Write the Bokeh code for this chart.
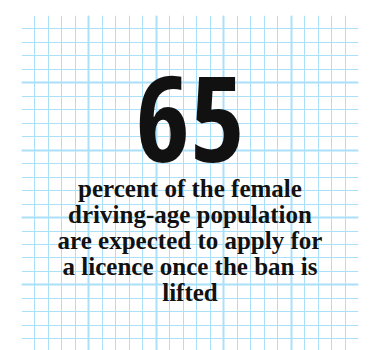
from bokeh.plotting import figure
from bokeh.models import Range1d, Grid, FixedTicker
from bokeh.core.properties import value
from bokeh.embed import file_html
from bokeh.resources import INLINE

# ---- data ----
headline_value = ["65"]
caption_lines = [
    "percent of the female",
    "driving-age population",
    "are expected to apply for",
    "a licence once the ban is",
    "lifted",
]
grid_cells = 25          # graph-paper cells across
major_every = 5          # heavier line every 5 cells

GRID_COLOR = "#aae0f8"
TEXT_COLOR = "#111111"

cell_px = 13.47
frame_w = 337
fig_w, fig_h = 376, 350
top_pad, left_pad = 15, 21
frame_h = fig_h - top_pad

p = figure(width=fig_w, height=fig_h, output_backend="svg", toolbar_location=None,
           x_axis_location=None, y_axis_location=None,
           x_range=Range1d(0, grid_cells),
           y_range=Range1d(grid_cells - frame_h / cell_px, grid_cells),
           min_border_left=left_pad, min_border_top=top_pad,
           min_border_right=fig_w - left_pad - frame_w, min_border_bottom=0)
p.outline_line_color = None
p.background_fill_color = "white"
p.border_fill_color = "white"
for g in list(p.center):
    if isinstance(g, Grid):
        p.center.remove(g)

major = list(range(0, grid_cells + 1, major_every))
minor = list(range(0, grid_cells + 1))
for dim in (0, 1):
    g = Grid(dimension=dim, ticker=FixedTicker(ticks=major, minor_ticks=minor))
    g.grid_line_color = GRID_COLOR
    g.grid_line_width = 2
    g.minor_grid_line_color = GRID_COLOR
    g.minor_grid_line_width = 1
    p.add_layout(g, "center")

cx = grid_cells / 2
def y_at(px):
    return grid_cells - (px - top_pad) / cell_px

p.text(x=[cx], y=[y_at(118)], text=headline_value,
       text_align="center", text_baseline="alphabetic",
       text_font=value("'Noto Sans Condensed Black', 'Open Sans Condensed', 'Roboto Black', Roboto, sans-serif"),
       text_font_style="bold",
       text_font_size="118px", text_color=TEXT_COLOR)

ys = [y_at(188 + 26 * i) for i in range(len(caption_lines))]
p.text(x=[cx] * len(caption_lines), y=ys, text=caption_lines,
       text_align="center", text_baseline="alphabetic",
       text_font=value("Liberation Serif"), text_font_style="bold",
       text_font_size="25px", text_color=TEXT_COLOR)

open("out.html", "w").write(file_html(p, INLINE))
